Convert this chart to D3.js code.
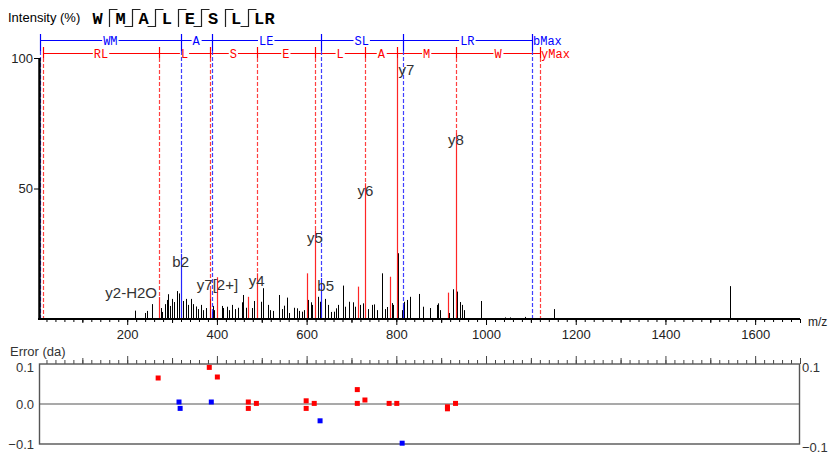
<!DOCTYPE html>
<html>
<head>
<meta charset="utf-8">
<script src="https://cdn.jsdelivr.net/npm/d3@7"></script>
<style>
  body { margin: 0; background: #fff; }
  svg text { font-family: "Liberation Sans", Arial, sans-serif; }
</style>
</head>
<body>
<div id="chart"></div>
<script>
// peptide and which cleavage sites gave b / y ions
const peptide = ["W", "M", "A", "L", "E", "S", "L", "L", "R"];
const bSites = [false, true, true, false, true, false, true, false];
const ySites = [true, true, true, true, true, true, true, false];

// fragment ladders (m/z of each step, matched intensity, residue between steps)
const bLadderMz = [5.6, 319.3, 388.4, 631.4, 814.3, 1102.5];
const bLadderInt = [0, 25, 3, 15.7, 5.4, 0];
const bLadderSteps = ["WM", "A", "LE", "SL", "LR"];
const yLadderMz = [12.3, 270.9, 384.6, 488.7, 618.7, 730.9, 802.2, 933.1, 1120.4];
const yLadderInt = [0, 8.4, 11.1, 17.5, 34, 52, 100, 71.6, 0];
const yLadderSteps = ["RL", "L", "S", "E", "L", "A", "M", "W"];

// other matched y-type peaks
const redMz = [401.3, 470.4, 600.2, 714, 786, 916];
const redInt = [16, 8.5, 17.5, 12.4, 16.2, 10.1];

// unmatched peaks
const blackMz = [217.4, 239.7, 243.5, 256, 274.7, 278.3, 284.3, 288, 291.6, 295.4, 299.2, 304.3, 310.4, 315.5,
  325, 331.1, 336.2, 341.6, 347.4, 352.7, 358.5, 364.5, 369.7, 375.7, 384.6, 390.6, 394.2, 410.7, 414.3,
  421.9, 427.6, 433, 440.4, 446.4, 455.3, 458.9, 464.9, 477.6, 482.7, 498.3, 503.5, 514.6, 518.4, 525.8,
  538.5, 544.5, 550.3, 555.6, 561.4, 571.9, 577.9, 583.7, 589.1, 594.9, 603.8, 609.1, 612.7, 624.8, 629.9,
  641, 647, 654.4, 661.1, 665.6, 670.7, 680.5, 685.6, 695.2, 702.8, 707.9, 719.1, 726.4, 736.9, 745.2,
  750.3, 756.3, 767.4, 774.8, 779.3, 789.7, 793.3, 804.5, 812, 817.2, 823.2, 830.5, 851.3, 858.9, 875.1,
  890.1, 893.6, 897.4, 918.2, 925.7, 936, 941, 945.8, 950, 988.2, 1042, 1053, 1087, 1152.3, 1544];
const blackInt = [3.2, 2.3, 3.1, 5.7, 4.2, 2.7, 5.7, 7.3, 9.5, 5, 7.7, 6.5, 10.7, 9.8,
  6.9, 7.7, 5.4, 7.7, 5.7, 4.8, 3.8, 5.4, 3.4, 4.2, 7.7, 5, 3.4, 5, 4.2,
  4.7, 3.4, 5.4, 3.8, 4.3, 6.4, 9.2, 4.3, 4.2, 6.9, 6.6, 11.8, 5.4, 3.4, 3.1,
  9.2, 3.8, 5.1, 8.2, 2.3, 4.3, 4.1, 3.1, 2.8, 3.4, 7.3, 6.4, 5.4, 8.5, 6.6,
  7.7, 5.4, 2.7, 2.8, 4.1, 5.4, 12.8, 4.7, 6.6, 6.4, 4.7, 5.4, 6, 3.8, 5.4,
  5.6, 3.4, 17.5, 3.8, 4.6, 6.1, 5.4, 25.2, 3.4, 6.6, 7.3, 8.5, 9.6, 4.7, 4.2,
  5.4, 6, 3.4, 2.3, 11.4, 10.5, 6.5, 5.4, 3.4, 6.9, 0.6, 0.6, 0.8, 3.8, 12.6];

// annotated ions
const labelNames = ["y2-H2O", "b2", "y7[2+]", "y4", "y5", "b5", "y6", "y7", "y8"];
const labelMz = [270.9, 319.3, 401.3, 488.7, 618.7, 631.4, 730.9, 802.2, 933.1];
const labelInt = [8.4, 25, 16, 17.5, 34, 15.7, 52, 100, 71.6];

// mass errors
const yErrMz = [269, 383, 401, 470, 470, 488, 599, 599, 617, 713, 713, 730, 784, 801, 914, 914, 932];
const yErr = [0.065, 0.0915, 0.0675, 0.005, -0.011, 0.0015, 0.008, -0.011, 0.0015, 0.036, 0.0015, 0.01,
  0.0015, 0.0015, -0.007, -0.012, 0.0015];
const bErrMz = [315.5, 318, 387.5, 630, 813];
const bErr = [0.005, -0.011, 0.005, -0.042, -0.098];

const xTicks = [200, 400, 600, 800, 1000, 1200, 1400, 1600];
const yTicks = [50, 100];

const width = 829, height = 459;
const RED = "#ff0000", BLUE = "#0000ff";
const MONO = "'Liberation Mono', 'Courier New', monospace";

const svg = d3.select("#chart").append("svg")
  .attr("width", width)
  .attr("height", height);

const x = d3.scaleLinear().domain([0, 1700]).range([37.5, 800]);
const y = d3.scaleLinear().domain([0, 100]).range([319, 58]);
const ye = d3.scaleLinear().domain([-0.1, 0.1]).range([444, 364]);
const px = v => Math.round(x(v)) + 0.5;

// ---- header: intensity title + peptide with fragment marks
svg.append("text").attr("x", 8).attr("y", 22)
  .style("font-size", "13px").text("Intensity (%)");

const seq = svg.append("g");
let cx = 97.5;
const letterX = peptide.map((p, i) => {
  const pos = cx;
  if (i < bSites.length) cx += 10.5 + ((bSites[i] || ySites[i]) ? 12.6 : 0);
  return pos;
});
seq.selectAll("text").data(peptide).join("text")
  .attr("x", (d, i) => letterX[i]).attr("y", 24)
  .attr("text-anchor", "middle")
  .style("font-family", MONO)
  .style("font-weight", "bold").style("font-size", "17px")
  .text(d => d);
bSites.forEach((b, i) => {
  if (!b && !ySites[i]) return;
  const vx = Math.round((letterX[i] + letterX[i + 1]) / 2) + 0.5;
  const path = d3.path();
  path.moveTo(vx, 9); path.lineTo(vx, 27);
  if (ySites[i]) { path.moveTo(vx, 9.5); path.lineTo(vx + 8, 9.5); }
  if (b) { path.moveTo(vx, 26.5); path.lineTo(vx - 8, 26.5); }
  seq.append("path").attr("d", path.toString())
    .attr("fill", "none").attr("stroke", "#222").attr("stroke-width", 1.2);
});

// ---- unmatched peaks
svg.append("g").selectAll("line").data(blackMz).join("line")
  .attr("x1", d => px(d)).attr("x2", d => px(d))
  .attr("y1", y(0)).attr("y2", (d, i) => y(blackInt[i]))
  .attr("stroke", "#000").attr("stroke-width", 1);

// ---- ladders
function ladder(mzs, ints, steps, endLabel, color, dashColor, lineY, tickTop, tickBottom) {
  const g = svg.append("g");
  // dashed guides down to the matched peak
  g.selectAll("line.guide").data(mzs).join("line").attr("class", "guide")
    .attr("x1", d => px(d)).attr("x2", d => px(d))
    .attr("y1", tickBottom).attr("y2", (d, i) => y(ints[i]))
    .attr("stroke", dashColor).attr("stroke-width", 1.2).attr("stroke-dasharray", "4,2");
  // matched peaks
  g.selectAll("line.peak").data(mzs.filter((d, i) => ints[i] > 0)).join("line").attr("class", "peak")
    .attr("x1", d => px(d)).attr("x2", d => px(d))
    .attr("y1", y(0)).attr("y2", d => y(ints[mzs.indexOf(d)]))
    .attr("stroke", color).attr("stroke-width", 1.2).attr("opacity", 0.85);
  g.append("line")
    .attr("x1", px(mzs[0])).attr("x2", px(mzs[mzs.length - 1]))
    .attr("y1", lineY).attr("y2", lineY)
    .attr("stroke", color).attr("stroke-width", 1.2);
  g.selectAll("line.tick").data(mzs).join("line").attr("class", "tick")
    .attr("x1", d => px(d)).attr("x2", d => px(d))
    .attr("y1", tickTop).attr("y2", tickBottom)
    .attr("stroke", color).attr("stroke-width", 1.2);
  const lab = g.selectAll("g.step").data(steps).join("g").attr("class", "step")
    .attr("transform", (d, i) => `translate(${(x(mzs[i]) + x(mzs[i + 1])) / 2},${lineY})`);
  lab.append("text")
    .attr("text-anchor", "middle").attr("dy", "0.35em")
    .style("font-family", MONO).style("font-size", "12px")
    .attr("fill", color).text(d => d);
  lab.each(function () {
    const t = d3.select(this).select("text");
    const bb = t.node().getBBox();
    d3.select(this).insert("rect", "text")
      .attr("x", bb.x - 1).attr("y", -2).attr("width", bb.width + 2).attr("height", 4)
      .attr("fill", "#fff");
  });
  g.append("text")
    .attr("x", x(mzs[mzs.length - 1]) + 1).attr("y", lineY).attr("dy", "0.35em")
    .style("font-family", MONO).style("font-size", "12px")
    .attr("fill", color).text(endLabel);
}
ladder(yLadderMz, yLadderInt, yLadderSteps, "yMax", RED, "#ff4040", 53.5, 47, 58);
ladder(bLadderMz, bLadderInt, bLadderSteps, "bMax", BLUE, "#4040ff", 40.5, 34, 51);

// other red peaks
svg.append("g").selectAll("line").data(redMz).join("line")
  .attr("x1", d => px(d)).attr("x2", d => px(d))
  .attr("y1", y(0)).attr("y2", (d, i) => y(redInt[i]))
  .attr("stroke", RED).attr("stroke-width", 1.2).attr("opacity", 0.85);

// ---- ion labels
const labelNudge = {
  "y2-H2O": { dx: -2, dy: -12, anchor: "end" },
  "y7": { dx: 9, dy: 4 },
  "b5": { dx: 5, dy: 0 }
};
svg.append("g").selectAll("text").data(labelNames).join("text")
  .attr("x", (d, i) => x(labelMz[i]) + ((labelNudge[d] || {}).dx || 0))
  .attr("y", (d, i) => y(labelInt[i]) + 13 + ((labelNudge[d] || {}).dy || 0))
  .attr("text-anchor", d => (labelNudge[d] || {}).anchor || "middle")
  .style("font-size", "15px").attr("fill", "#333")
  .text(d => d);

// ---- axes
const minorTicks = d3.range(20, 1701, 20);
const midTicks = d3.range(100, 1701, 200);

const xAxisG = svg.append("g").attr("transform", `translate(0,${y(0)})`);
xAxisG.append("g").call(d3.axisBottom(x).tickValues(minorTicks).tickSize(3).tickFormat(""));
xAxisG.append("g").call(d3.axisBottom(x).tickValues(midTicks).tickSize(4).tickFormat(""));
xAxisG.append("g").call(d3.axisBottom(x).tickValues(xTicks).tickSize(6).tickPadding(5).tickFormat(d3.format("d")));
xAxisG.selectAll(".domain").remove();
xAxisG.selectAll("text").style("font-size", "13px").attr("fill", "#222")
  .style("font-family", "'Liberation Sans', Arial, sans-serif");
xAxisG.append("line").attr("x1", 38).attr("x2", 800).attr("y1", 0).attr("y2", 0)
  .attr("stroke", "#000").attr("stroke-width", 2);
svg.append("text").attr("x", 808).attr("y", 326).style("font-size", "12px").attr("fill", "#222").text("m/z");

const yAxisG = svg.append("g").attr("transform", "translate(39,0)")
  .call(d3.axisLeft(y).tickValues(yTicks).tickSize(5).tickPadding(1));
yAxisG.select(".domain").remove();
yAxisG.selectAll("text").style("font-size", "13px").attr("fill", "#222")
  .style("font-family", "'Liberation Sans', Arial, sans-serif");
yAxisG.append("line").attr("x1", 0.5).attr("x2", 0.5).attr("y1", y(100)).attr("y2", y(0))
  .attr("stroke", "#000").attr("stroke-width", 2.5);

// ---- error panel
const err = svg.append("g");
err.append("text").attr("x", 10).attr("y", 356).style("font-size", "13px").attr("fill", "#333").text("Error (da)");
const eTop = err.append("g").attr("transform", `translate(0,${ye(0.1)})`);
eTop.append("g").call(d3.axisTop(x).tickValues(minorTicks).tickSize(4).tickFormat(""));
eTop.append("g").call(d3.axisTop(x).tickValues(midTicks).tickSize(6).tickFormat(""));
eTop.append("g").call(d3.axisTop(x).tickValues(xTicks).tickSize(8).tickFormat(""));
eTop.selectAll(".domain").remove();
eTop.selectAll("line").attr("stroke", "#444");

err.append("rect").attr("x", 39.5).attr("y", ye(0.1)).attr("width", 760).attr("height", ye(-0.1) - ye(0.1))
  .attr("fill", "none").attr("stroke", "#555").attr("stroke-width", 1.4);
err.append("line").attr("x1", 39.5).attr("x2", 799.5).attr("y1", ye(0)).attr("y2", ye(0))
  .attr("stroke", "#555").attr("stroke-width", 1.2);

const eLeft = err.append("g").attr("transform", "translate(39,0)")
  .call(d3.axisLeft(ye).tickValues([-0.1, 0, 0.1]).tickSize(0).tickPadding(5).tickFormat(d3.format(".1f")));
eLeft.select(".domain").remove();
const eRight = err.append("g").attr("transform", "translate(800,0)")
  .call(d3.axisRight(ye).tickValues([-0.1, 0.1]).tickSize(0).tickPadding(2).tickFormat(d3.format(".1f")));
eRight.select(".domain").remove();
err.selectAll("text").style("font-size", "13px").attr("fill", "#333")
  .style("font-family", "'Liberation Sans', Arial, sans-serif");
eLeft.selectAll(".tick").filter(d => d > 0).select("text").attr("dy", "0.55em");
eRight.selectAll(".tick").filter(d => d < 0).select("text").attr("dy", "0.55em");
eRight.selectAll(".tick").filter(d => d > 0).select("text").attr("dy", "0.55em");

err.append("g").selectAll("rect").data(yErrMz).join("rect")
  .attr("x", d => x(d) - 2.5).attr("y", (d, i) => ye(yErr[i]) - 2.5)
  .attr("width", 5).attr("height", 5).attr("fill", RED);
err.append("g").selectAll("rect").data(bErrMz).join("rect")
  .attr("x", d => x(d) - 2.5).attr("y", (d, i) => ye(bErr[i]) - 2.5)
  .attr("width", 5).attr("height", 5).attr("fill", BLUE);
</script>
</body>
</html>
